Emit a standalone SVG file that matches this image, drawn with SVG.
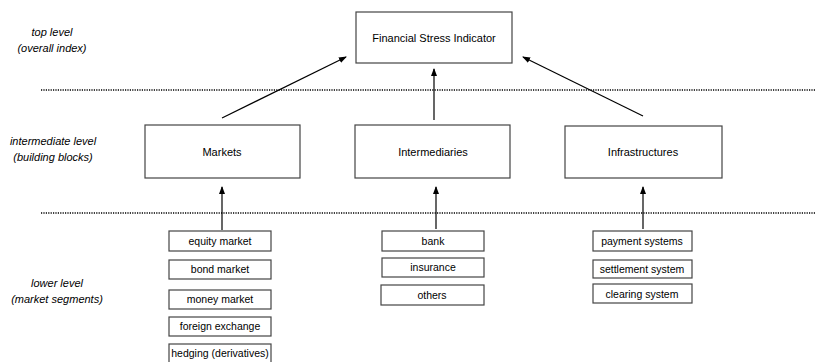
<svg xmlns="http://www.w3.org/2000/svg" width="816" height="362" viewBox="0 0 816 362">
<defs>
<marker id="ah" markerWidth="8" markerHeight="6" refX="7" refY="3" orient="auto" markerUnits="userSpaceOnUse">
<path d="M0,0 L8,3 L0,6 z" fill="#000"/>
</marker>
<style>
.box{fill:#fff;stroke:#444;stroke-width:1.2}
.t{font-family:"Liberation Sans",Arial,sans-serif;font-size:11px;fill:#000;text-anchor:middle}
.s{font-size:10.5px}
.lbl{font-family:"Liberation Sans",Arial,sans-serif;font-size:11px;font-style:italic;fill:#000;text-anchor:middle}
.dot{stroke:#000;stroke-width:1.5;stroke-dasharray:1.2 1.2;fill:none}
.c{stroke:#000;stroke-width:1.2;fill:none;marker-end:url(#ah)}
</style>
</defs>
<rect width="816" height="362" fill="#fff"/>
<g id="levels">
<text class="lbl" x="52" y="36">top level</text>
<text class="lbl" x="52" y="52">(overall index)</text>
<text class="lbl" x="53" y="145">intermediate level</text>
<text class="lbl" x="53" y="161">(building blocks)</text>
<text class="lbl" x="57" y="287">lower level</text>
<text class="lbl" x="57" y="303">(market segments)</text>
<line class="dot" x1="41" y1="90" x2="816" y2="90"/>
<line class="dot" x1="41" y1="213" x2="816" y2="213"/>
</g>
<g id="connectors">
<line class="c" x1="222" y1="118" x2="346" y2="57"/>
<line class="c" x1="434" y1="120" x2="434" y2="69"/>
<line class="c" x1="643" y1="116" x2="523" y2="57"/>
<line class="c" x1="222" y1="230" x2="222" y2="187"/>
<line class="c" x1="436" y1="229" x2="436" y2="187"/>
<line class="c" x1="643" y1="229" x2="643" y2="187"/>
</g>
<g id="fsi"><rect class="box" x="356" y="12" width="156" height="51"/><text class="t" x="434" y="42">Financial Stress Indicator</text></g>
<g id="markets"><rect class="box" x="145" y="125" width="155" height="53"/><text class="t" x="222" y="156">Markets</text></g>
<g id="intermediaries"><rect class="box" x="355" y="125" width="155" height="53"/><text class="t" x="433" y="156">Intermediaries</text></g>
<g id="infrastructures"><rect class="box" x="565" y="126" width="157" height="52"/><text class="t" x="643" y="156">Infrastructures</text></g>
<g id="equity"><rect class="box" x="169" y="231" width="102" height="20"/><text class="t s" x="220" y="245">equity market</text></g>
<g id="bond"><rect class="box" x="169" y="260" width="102" height="19"/><text class="t s" x="220" y="273">bond market</text></g>
<g id="money"><rect class="box" x="169" y="290" width="102" height="19"/><text class="t s" x="220" y="303">money market</text></g>
<g id="fx"><rect class="box" x="169" y="317" width="102" height="19"/><text class="t s" x="220" y="330">foreign exchange</text></g>
<g id="hedging"><rect class="box" x="169" y="344" width="102" height="19"/><text class="t s" x="220" y="357">hedging (derivatives)</text></g>
<g id="bank"><rect class="box" x="382" y="231" width="102" height="20"/><text class="t s" x="433" y="245">bank</text></g>
<g id="insurance"><rect class="box" x="382" y="258" width="102" height="19"/><text class="t s" x="433" y="271">insurance</text></g>
<g id="others"><rect class="box" x="381" y="285" width="103" height="20"/><text class="t s" x="432" y="299">others</text></g>
<g id="payment"><rect class="box" x="593" y="231" width="99" height="20"/><text class="t s" x="642" y="245">payment systems</text></g>
<g id="settlement"><rect class="box" x="593" y="260" width="99" height="18"/><text class="t s" x="642" y="273">settlement system</text></g>
<g id="clearing"><rect class="box" x="593" y="284" width="99" height="19"/><text class="t s" x="642" y="298">clearing system</text></g>
</svg>
